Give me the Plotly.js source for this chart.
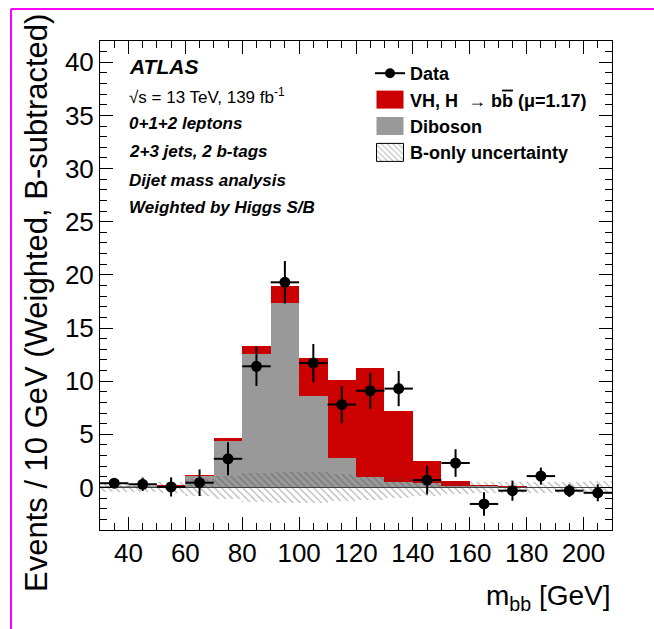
<!DOCTYPE html>
<html>
<head>
<meta charset="utf-8">
<script src="https://cdn.plot.ly/plotly-3.0.1.min.js"></script>
<style>
html,body{margin:0;padding:0;background:#fff;}
#chart{width:654px;height:629px;}
</style>
</head>
<body>
<div id="chart"></div>
<script>
// ---- data ----
const binCenters = [35,45,55,65,75,85,95,105,115,125,135,145,155,165,175,185,195,205];
const diboson    = [0.10,0.10,0.10,1.04,4.35,12.56,17.39,8.64,2.75,1.02,0.55,0.39,0.15,0.10,0.05,0.05,0.05,0.05];
const vhSignal   = [0.05,0.05,0.10,0.16,0.33,0.75,1.60,3.57,7.36,10.22,6.62,2.10,0.45,0.09,0.05,0.03,0.03,0.03];
const bOnlyUnc   = [0.45,0.45,0.50,0.80,1.10,1.35,1.45,1.45,1.30,1.15,1.00,0.80,0.65,0.55,0.50,0.50,0.55,0.60];
const dataVals   = [0.40,0.30,0.05,0.45,2.70,11.40,19.30,11.70,7.80,9.10,9.30,0.70,2.30,-1.55,-0.30,1.07,-0.30,-0.50];
const dataErrs   = [0.40,0.63,0.90,1.25,1.55,1.85,2.00,1.80,1.75,1.70,1.65,1.35,1.30,1.10,0.95,0.80,0.60,0.80];
const binHalfWidth = 5;
const xTickVals  = [40,60,80,100,120,140,160,180,200];
const yTickVals  = [0,5,10,15,20,25,30,35,40];

// ---- layout helpers ----
const W = 654, H = 629;
const M = {l:100, r:42, t:41, b:99};
const PW = W - M.l - M.r, PH = H - M.t - M.b;
const fx = px => (px - M.l) / PW;
const fy = py => (H - M.b - py) / PH;

const FONT = 'Liberation Sans, Arial, Helvetica, sans-serif';
const RED = '#cc0000', GREY = '#999999';

const bandBase = bOnlyUnc.map(v => -v);
const bandSize = bOnlyUnc.map(v => 2 * v);

const traces = [
  {type:'bar', name:'Diboson', x:binCenters, y:diboson, width:10,
   marker:{color:GREY, line:{width:0}}, legendrank:3, hoverinfo:'skip'},
  {type:'bar', name:'VH, H\u00a0\u00a0\u2192 b<span style="text-decoration:overline">b</span> (\u03bc=1.17)',
   x:binCenters, y:vhSignal, width:10,
   marker:{color:RED, line:{width:0}}, legendrank:2, hoverinfo:'skip'},
  {type:'bar', name:'B-only uncertainty', x:binCenters, y:bandSize, base:bandBase, width:10,
   marker:{color:'rgba(0,0,0,0)', line:{width:0},
     pattern:{shape:'\\', size:5, solidity:0.25, fgcolor:'rgba(60,60,60,0.75)', bgcolor:'rgba(0,0,0,0)', fillmode:'overlay'}},
   legendrank:4, hoverinfo:'skip'},
  {type:'scatter', mode:'markers', name:'Data', x:binCenters, y:dataVals, showlegend:false,
   marker:{color:'#000', size:11},
   error_x:{type:'constant', value:binHalfWidth, width:0, thickness:2, color:'#000'},
   error_y:{type:'data', array:dataErrs, width:0, thickness:2, color:'#000'}},
  {type:'scatter', mode:'lines+markers', name:'Data', x:[null], y:[null],
   marker:{color:'#000', size:10}, line:{color:'#000', width:2}, legendrank:1}
];

const txt = (t, py, size, extra) => Object.assign({
  text:t, xref:'paper', yref:'paper', x:fx(127), y:fy(py), xanchor:'left', yanchor:'middle',
  showarrow:false, font:{family:FONT, size:size, color:'#000'}
}, extra || {});
const bi = {family:FONT, size:17, color:'#000', weight:'bold', style:'italic'};

const layout = {
  width:W, height:H, margin:M, paper_bgcolor:'#fff', plot_bgcolor:'#fff',
  barmode:'stack', bargap:0, showlegend:true,
  font:{family:FONT, color:'#000'},
  xaxis:{range:[30,210], tickvals:xTickVals, ticks:'inside', ticklen:13, tickwidth:1, tickcolor:'#000',
    showline:true, linecolor:'#000', linewidth:1, mirror:'ticks', showgrid:false, zeroline:false,
    tickfont:{family:FONT, size:26, color:'#000'},
    minor:{dtick:5, tick0:0, ticks:'inside', ticklen:7, tickcolor:'#000', showgrid:false}},
  yaxis:{range:[-4,42], tickvals:yTickVals, ticks:'inside', ticklen:13, tickwidth:1, tickcolor:'#000',
    showline:true, linecolor:'#000', linewidth:1, mirror:'ticks', showgrid:false,
    zeroline:true, zerolinecolor:'#444', zerolinewidth:1,
    tickfont:{family:FONT, size:26, color:'#000'},
    minor:{dtick:1, tick0:0, ticks:'inside', ticklen:7, tickcolor:'#000', showgrid:false}},
  legend:{x:fx(370), y:fy(55), xanchor:'left', yanchor:'top', bgcolor:'rgba(0,0,0,0)',
    borderwidth:0, traceorder:'normal',
    font:{family:FONT, size:18, color:'#000', weight:'bold'}},
  annotations:[
    txt('ATLAS', 66, 21, {font:{family:FONT, size:21, color:'#000', weight:'bold', style:'italic'}}),
    txt('\u221as = 13 TeV, 139 fb<sup>-1</sup>', 96, 17),
    txt('0+1+2 leptons', 123, 17, {font:bi}),
    txt('2+3 jets, 2 b-tags', 151, 17, {font:bi}),
    txt('Dijet mass analysis', 180, 17, {font:bi}),
    txt('Weighted by Higgs S/B', 208, 17, {font:bi}),
    {text:'m<sub>bb</sub> [GeV]', xref:'paper', yref:'paper', x:fx(613), y:fy(597), xanchor:'right', yanchor:'middle',
     showarrow:false, font:{family:FONT, size:28, color:'#000'}},
    {text:'Events / 10 GeV (Weighted, B-subtracted)', xref:'paper', yref:'paper', x:fx(36), y:fy(303),
     xanchor:'center', yanchor:'middle', textangle:-90, showarrow:false, font:{family:FONT, size:31, color:'#000'}}
  ],
  shapes:[
    {type:'line', xref:'paper', yref:'paper', x0:fx(11), x1:fx(700), y0:fy(9), y1:fy(9), line:{color:'#ff00ff', width:2}},
    {type:'line', xref:'paper', yref:'paper', x0:fx(11), x1:fx(11), y0:fy(9), y1:fy(700), line:{color:'#ff00ff', width:2}}
  ]
};

Plotly.newPlot('chart', traces, layout, {displayModeBar:false, staticPlot:true}).then(function(){
  document.querySelectorAll('.legend .traces').forEach(function(g){
    const d = g.__data__; if(!d || !d[0] || !d[0].trace) return;
    const tr = d[0].trace;
    if(tr.type === 'bar'){
      g.querySelectorAll('.legendpoints path').forEach(function(p){
        p.setAttribute('d','M13.5,9H-13.5V-9H13.5Z');
        if(tr.name === 'B-only uncertainty'){ p.style.stroke = '#000'; p.style.strokeWidth = '1px'; p.style.strokeOpacity = 1; }
      });
    }
  });
});
</script>
</body>
</html>
